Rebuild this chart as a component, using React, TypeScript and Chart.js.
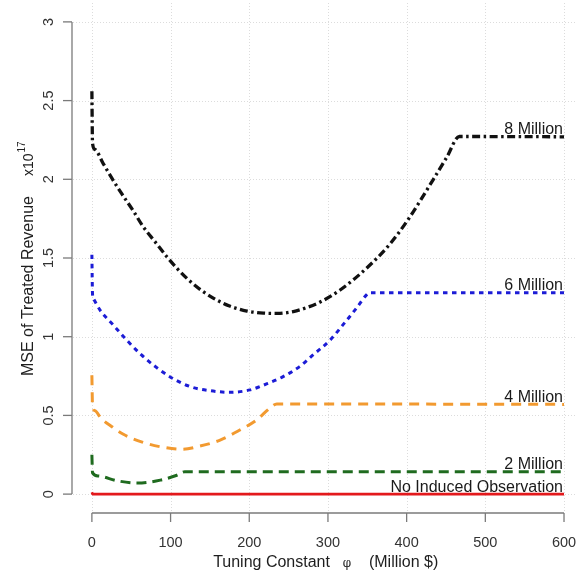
import { useEffect, useRef } from "react";
import { Chart, registerables } from "chart.js";

Chart.register(...registerables);

// ---- data (x in Million $, y in units of 10^17) ----
const xTicks = [0, 100, 200, 300, 400, 500, 600];
const xTickLabels = ["0", "100", "200", "300", "400", "500", "600"];
const yTicks = [0, 0.5, 1, 1.5, 2, 2.5, 3];
const yTickLabels = ["0", "0.5", "1", "1.5", "2", "2.5", "3"];

const x8M = [0, 0.8, 3.8, 14.4, 25, 37.7, 52.5, 65, 80, 95, 108, 122, 139, 158, 175, 197, 218, 236, 256, 273, 290, 315, 349, 379, 404, 434, 451, 467, 600];
const y8M = [2.56, 2.23, 2.19, 2.1, 2.01, 1.91, 1.8, 1.7, 1.605, 1.51, 1.435, 1.365, 1.295, 1.235, 1.195, 1.163, 1.15, 1.148, 1.16, 1.185, 1.22, 1.295, 1.435, 1.59, 1.76, 2.0, 2.14, 2.272, 2.27];

const x6M = [0, 0.8, 1.7, 10.2, 27, 44, 63, 82, 99, 125, 150, 175, 201, 222, 243, 264, 281, 303, 319, 336, 349, 353, 600];
const y6M = [1.52, 1.27, 1.245, 1.17, 1.075, 0.98, 0.884, 0.805, 0.746, 0.683, 0.657, 0.647, 0.662, 0.7, 0.746, 0.81, 0.884, 0.98, 1.075, 1.18, 1.266, 1.28, 1.28];

const x4M = [0, 0.8, 3.8, 12, 25, 40, 64, 88, 115, 137, 163, 188, 209, 226, 235, 600];
const y4M = [0.755, 0.56, 0.53, 0.48, 0.43, 0.38, 0.33, 0.3, 0.285, 0.305, 0.343, 0.407, 0.47, 0.545, 0.573, 0.57];

const x2M = [0, 0.8, 8, 32, 58, 87, 108, 118, 600];
const y2M = [0.25, 0.135, 0.115, 0.085, 0.07, 0.089, 0.12, 0.142, 0.142];

const xNone = [0, 1, 600];
const yNone = [0.012, 0, 0];

const seriesNames = ["8 Million", "6 Million", "4 Million", "2 Million", "No Induced Observation"];

const toPts = (xs: number[], ys: number[]) => xs.map((x, i) => ({ x, y: ys[i] }));

const rStylePlugin = {
  id: "rStyle",
  beforeDatasetsDraw(chart: any) {
    const { ctx, chartArea: a, scales } = chart;
    const x = scales.x;
    const y = scales.y;
    ctx.save();
    ctx.strokeStyle = "#dcdcdc";
    ctx.lineWidth = 1;
    ctx.setLineDash([1, 2]);
    for (const t of xTicks) {
      const px = Math.round(x.getPixelForValue(t)) + 0.5;
      ctx.beginPath();
      ctx.moveTo(px, a.top);
      ctx.lineTo(px, a.bottom);
      ctx.stroke();
    }
    for (const t of yTicks) {
      const py = Math.round(y.getPixelForValue(t)) + 0.5;
      ctx.beginPath();
      ctx.moveTo(a.left, py);
      ctx.lineTo(a.right, py);
      ctx.stroke();
    }
    ctx.restore();
  },
  afterDraw(chart: any) {
    const { ctx, chartArea: a, scales, data } = chart;
    const x = scales.x;
    const y = scales.y;
    ctx.save();
    ctx.setLineDash([]);
    ctx.strokeStyle = "#7a7a7a";
    ctx.lineWidth = 1.3;
    // y axis
    const ax = 72;
    ctx.beginPath();
    ctx.moveTo(ax, y.getPixelForValue(0));
    ctx.lineTo(ax, y.getPixelForValue(3));
    ctx.stroke();
    for (const t of yTicks) {
      const py = y.getPixelForValue(t);
      ctx.beginPath();
      ctx.moveTo(ax, py);
      ctx.lineTo(ax - 9, py);
      ctx.stroke();
    }
    // x axis
    const ay = a.bottom;
    ctx.beginPath();
    ctx.moveTo(x.getPixelForValue(0), ay);
    ctx.lineTo(x.getPixelForValue(600), ay);
    ctx.stroke();
    for (const t of xTicks) {
      const px = x.getPixelForValue(t);
      ctx.beginPath();
      ctx.moveTo(px, ay);
      ctx.lineTo(px, ay + 9);
      ctx.stroke();
    }
    // tick labels
    ctx.fillStyle = "#333333";
    ctx.font = "14.5px 'Liberation Sans', Arial, sans-serif";
    ctx.textAlign = "center";
    ctx.textBaseline = "alphabetic";
    xTicks.forEach((t, i) => {
      ctx.fillText(xTickLabels[i], x.getPixelForValue(t), 547);
    });
    yTicks.forEach((t, i) => {
      ctx.save();
      ctx.translate(53, y.getPixelForValue(t));
      ctx.rotate(-Math.PI / 2);
      ctx.fillText(yTickLabels[i], 0, 0);
      ctx.restore();
    });
    // x title
    const cx = x.getPixelForValue(300);
    ctx.fillStyle = "#1e1e1e";
    ctx.font = "16px 'Liberation Sans', Arial, sans-serif";
    ctx.textAlign = "right";
    ctx.fillText("Tuning Constant", cx + 2, 567);
    ctx.textAlign = "center";
    ctx.font = "12px 'DejaVu Serif', serif";
    ctx.fillText("φ", cx + 19, 567);
    ctx.font = "16px 'Liberation Sans', Arial, sans-serif";
    ctx.textAlign = "left";
    ctx.fillText("(Million $)", cx + 41, 567);
    // y title (rotated)
    ctx.save();
    ctx.translate(33, y.getPixelForValue(1.5));
    ctx.rotate(-Math.PI / 2);
    ctx.textAlign = "left";
    ctx.font = "16px 'Liberation Sans', Arial, sans-serif";
    const main = "MSE of Treated Revenue";
    const u0 = -118;
    ctx.fillText(main, u0, 0);
    const wMain = ctx.measureText(main).width;
    ctx.font = "14px 'Liberation Sans', Arial, sans-serif";
    const u1 = u0 + wMain + 20;
    ctx.fillText("x10", u1, 0);
    const w1 = ctx.measureText("x10").width;
    ctx.font = "10px 'Liberation Sans', Arial, sans-serif";
    ctx.fillText("17", u1 + w1 + 1, -8);
    ctx.restore();
    // series labels
    ctx.fillStyle = "#1a1a1a";
    ctx.font = "16px 'Liberation Sans', Arial, sans-serif";
    ctx.textAlign = "right";
    const rx = x.getPixelForValue(600) - 1;
    data.datasets.forEach((ds: any, i: number) => {
      const last = ds.data[ds.data.length - 1];
      ctx.fillText(seriesNames[i], rx, y.getPixelForValue(last.y) - 2.5);
    });
    ctx.restore();
  },
};

export default function App() {
  const ref = useRef<HTMLCanvasElement | null>(null);
  useEffect(() => {
    if (!ref.current) return;
    const common = {
      pointRadius: 0,
      fill: false,
      cubicInterpolationMode: "monotone" as const,
      borderCapStyle: "butt" as const,
    };
    const chart = new Chart(ref.current, {
      type: "line",
      data: {
        datasets: [
          { ...common, label: seriesNames[0], data: toPts(x8M, y8M), borderColor: "#111111", borderWidth: 3.3, borderDash: [8, 3.5, 2.5, 3.5] },
          { ...common, label: seriesNames[1], data: toPts(x6M, y6M), borderColor: "#1c1cd6", borderWidth: 3, borderDash: [4.5, 4.5] },
          { ...common, label: seriesNames[2], data: toPts(x4M, y4M), borderColor: "#f29a30", borderWidth: 3, borderDash: [10, 7] },
          { ...common, label: seriesNames[3], data: toPts(x2M, y2M), borderColor: "#1f6b1f", borderWidth: 3, borderDash: [10, 6] },
          { ...common, label: seriesNames[4], data: toPts(xNone, yNone), borderColor: "#e3191c", borderWidth: 2.6 },
        ],
      },
      options: {
        animation: false,
        responsive: false,
        layout: { padding: { left: 73, top: 3, right: 0, bottom: 58 } },
        plugins: { legend: { display: false }, tooltip: { enabled: false } },
        scales: {
          x: { type: "linear", min: -24, max: 616.5, display: false },
          y: { type: "linear", min: -0.12, max: 3.12, display: false },
        },
      },
      plugins: [rStylePlugin],
    });
    return () => chart.destroy();
  }, []);
  return (
    <div style={{ position: "fixed", left: 0, top: 0, width: 577, height: 571, background: "#fff" }}>
      <canvas ref={ref} width={577} height={571} />
    </div>
  );
}
